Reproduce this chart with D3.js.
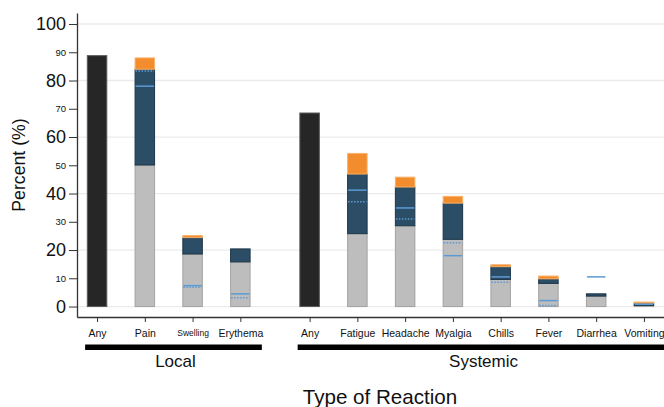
<!DOCTYPE html>
<html>
<head>
<meta charset="utf-8">
<script src="https://cdn.jsdelivr.net/npm/d3@7"></script>
<style>
  body { margin: 0; background: #fff; }
  text { font-family: "Liberation Sans", Arial, sans-serif; fill: #111; }
</style>
</head>
<body>
<svg id="chart" width="664" height="407"></svg>
<script>
// Chart data
var categories = ["Any", "Pain", "Swelling", "Erythema", "Any", "Fatigue", "Headache", "Myalgia", "Chills", "Fever", "Diarrhea", "Vomiting"];
var groups = ["Local", "Local", "Local", "Local", "Systemic", "Systemic", "Systemic", "Systemic", "Systemic", "Systemic", "Systemic", "Systemic"];
var groupNames = ["Local", "Systemic"];
// "Any" reaction totals (null for the individual symptoms)
var anyValues = [88.8, null, null, null, 68.5, null, null, null, null, null, null, null];
// stacked segments: mild, moderate, severe
var mild     = [0, 50.1, 18.6, 15.8, 0, 25.8, 28.6, 23.8, 9.6, 8.2, 3.7, 0.4];
var moderate = [0, 33.9,  5.8,  4.6, 0, 21.1, 13.7, 12.8, 4.5, 1.6, 0.8, 0.8];
var severe   = [0,  4.0,  0.7,  0.0, 0,  7.3,  3.5,  2.4, 0.7, 1.0, 0.0, 0.4];
// reference markers (solid and dotted lines)
var solidRef  = [null, 78.0, 7.4, 4.5, null, 41.2, 34.9, 18.0, 10.5, 2.1, 10.5, 0.8];
var dottedRef = [null, 83.4, 6.8, 3.1, null, 37.1, 31.0, 22.6, 8.6, 0.4, null, null];
var yTicks = [0, 10, 20, 30, 40, 50, 60, 70, 80, 90, 100];

var svg = d3.select("#chart");

// position of each category, with a gap between groups
var groupGap = 0.45;
var pos = categories.map(function(c, i) { return i + groupNames.indexOf(groups[i]) * groupGap; });

var x = d3.scaleLinear().domain([-0.42, 11.87]).range([77, 664]);
var y = d3.scaleLinear().domain([-3.7, 103.9]).range([317, 13]);
var barW = 19.5;

// grid lines
svg.append("g")
  .selectAll("line")
  .data(yTicks.filter(function(d) { return d % 20 === 0; }))
  .enter().append("line")
    .attr("x1", x.range()[0]).attr("x2", x.range()[1])
    .attr("y1", function(d) { return y(d); })
    .attr("y2", function(d) { return y(d); })
    .attr("stroke", "#ebebeb")
    .attr("stroke-width", 1.3);

// stacked bars
var rows = categories.map(function(c, i) {
  return { i: i, mild: mild[i], moderate: moderate[i], severe: severe[i] };
});
var stack = d3.stack().keys(["mild", "moderate", "severe"])(rows);
var fills = { mild: "#bdbdbd", moderate: "#2c4d66", severe: "#f28c2c" };
var strokes = { mild: "#a3a3a3", moderate: "#1c3549", severe: "#f7b26b" };

svg.append("g")
  .selectAll("g")
  .data(stack)
  .enter().append("g")
    .attr("fill", function(s) { return fills[s.key]; })
    .attr("stroke", function(s) { return strokes[s.key]; })
  .selectAll("rect")
  .data(function(s) { return s.filter(function(d) { return d[1] - d[0] > 0; }); })
  .enter().append("rect")
    .attr("x", function(d) { return x(pos[d.data.i]) - barW / 2; })
    .attr("width", barW)
    .attr("y", function(d) { return y(d[1]); })
    .attr("height", function(d) { return y(d[0]) - y(d[1]); })
    .attr("stroke-width", 1);

// "Any" bars
svg.append("g")
  .selectAll("rect")
  .data(anyValues.map(function(v, i) { return { v: v, i: i }; }).filter(function(d) { return d.v != null; }))
  .enter().append("rect")
    .attr("x", function(d) { return x(pos[d.i]) - barW / 2; })
    .attr("width", barW)
    .attr("y", function(d) { return y(d.v); })
    .attr("height", function(d) { return y(0) - y(d.v); })
    .attr("fill", "#262626")
    .attr("stroke", "#5a5a5a")
    .attr("stroke-width", 1);

// reference lines
function refLines(values, dash) {
  svg.append("g")
    .selectAll("line")
    .data(values.map(function(v, i) { return { v: v, i: i }; }).filter(function(d) { return d.v != null; }))
    .enter().append("line")
      .attr("x1", function(d) { return x(pos[d.i]) - barW / 2 + 0.5; })
      .attr("x2", function(d) { return x(pos[d.i]) + barW / 2 - 0.5; })
      .attr("y1", function(d) { return y(d.v); })
      .attr("y2", function(d) { return y(d.v); })
      .attr("stroke", "#5b9bd5")
      .attr("stroke-width", 1.5)
      .attr("stroke-dasharray", dash);
}
refLines(solidRef, null);
refLines(dottedRef, "1.5,1.5");

// y axis
var yAxis = svg.append("g")
  .attr("transform", "translate(" + x.range()[0] + ",0)")
  .call(d3.axisLeft(y).tickValues(yTicks).tickSize(8).tickSizeOuter(0).tickPadding(3));
yAxis.select(".domain").attr("stroke", "#333").attr("stroke-width", 1.3);
yAxis.selectAll(".tick line").attr("stroke", "#333");
yAxis.selectAll(".tick text")
  .style("font-size", function(d) { return d % 20 === 0 ? "18px" : "9.5px"; })
  .attr("fill", "#111");

svg.append("text")
  .attr("transform", "translate(25,165) rotate(-90)")
  .attr("text-anchor", "middle")
  .style("font-size", "17.7px")
  .text("Percent (%)");

// x axis
var xAxis = svg.append("g")
  .attr("transform", "translate(0," + y.range()[0] + ")")
  .call(d3.axisBottom(x).tickValues(pos).tickSize(5).tickSizeOuter(0)
    .tickFormat(function(d, i) { return categories[i]; }));
xAxis.select(".domain").attr("stroke", "#333").attr("stroke-width", 1.3);
xAxis.selectAll(".tick line").attr("stroke", "#333");
xAxis.selectAll(".tick text")
  .attr("y", 13)
  .style("font-size", function(d, i) { return categories[i] === "Swelling" ? "8.5px" : "10.5px"; })
  .attr("fill", "#111");

// group brackets
var groupInfo = groupNames.map(function(g) {
  var idx = pos.filter(function(p, i) { return groups[i] === g; });
  return { name: g, x0: x(d3.min(idx) - 0.25), x1: x(d3.max(idx) + 0.45) };
});
svg.append("g")
  .selectAll("rect")
  .data(groupInfo)
  .enter().append("rect")
    .attr("x", function(d) { return d.x0; })
    .attr("width", function(d) { return d.x1 - d.x0; })
    .attr("y", 344.5)
    .attr("height", 5.5)
    .attr("fill", "#000");
svg.append("g")
  .selectAll("text")
  .data(groupInfo)
  .enter().append("text")
    .attr("x", function(d) { return (d.x0 + d.x1) / 2 + 2; })
    .attr("y", 367)
    .attr("text-anchor", "middle")
    .style("font-size", "17px")
    .text(function(d) { return d.name; });

svg.append("text")
  .attr("x", 380)
  .attr("y", 404)
  .attr("text-anchor", "middle")
  .style("font-size", "20.6px")
  .text("Type of Reaction");
</script>
</body>
</html>
